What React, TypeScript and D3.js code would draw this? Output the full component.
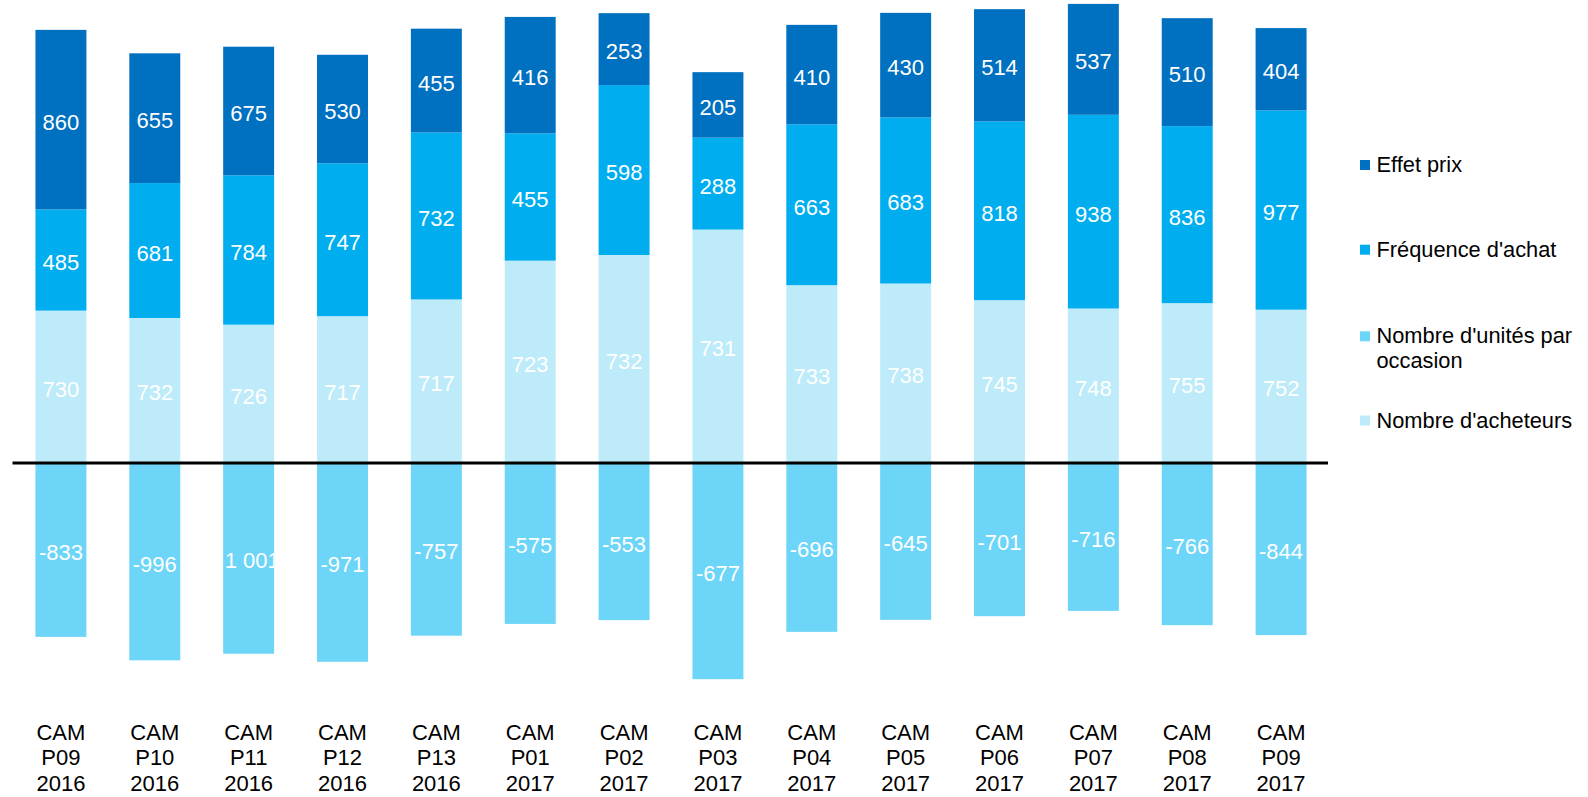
import React, { useEffect } from "react";
import * as d3 from "d3";

const categories = [
  "CAM P09 2016", "CAM P10 2016", "CAM P11 2016", "CAM P12 2016", "CAM P13 2016",
  "CAM P01 2017", "CAM P02 2017", "CAM P03 2017", "CAM P04 2017", "CAM P05 2017",
  "CAM P06 2017", "CAM P07 2017", "CAM P08 2017", "CAM P09 2017",
];
const acheteurs = [730, 732, 726, 717, 717, 723, 732, 731, 733, 738, 745, 748, 755, 752];
const frequence = [485, 681, 784, 747, 732, 455, 598, 288, 663, 683, 818, 938, 836, 977];
const effetPrix = [860, 655, 675, 530, 455, 416, 253, 205, 410, 430, 514, 537, 510, 404];
const unites = [-833, -996, -1001, -971, -757, -575, -553, -677, -696, -645, -701, -716, -766, -844];

const seriesNames = ["Nombre d'acheteurs", "Fréquence d'achat", "Effet prix", "Nombre d'unités par occasion"];
const legendOrder = ["Effet prix", "Fréquence d'achat", "Nombre d'unités par occasion", "Nombre d'acheteurs"];
const legendLines: Record<string, string[]> = {
  "Effet prix": ["Effet prix"],
  "Fréquence d'achat": ["Fréquence d'achat"],
  "Nombre d'unités par occasion": ["Nombre d'unités par", "occasion"],
  "Nombre d'acheteurs": ["Nombre d'acheteurs"],
};
const colors: Record<string, string> = {
  "Nombre d'acheteurs": "#BDEBF9",
  "Fréquence d'achat": "#00AEEF",
  "Effet prix": "#0070C0",
  "Nombre d'unités par occasion": "#6DD5F7",
};

const W = 1588;
const H = 797;
const FONT = "'Liberation Sans', Arial, sans-serif";

const locale = d3.formatLocale({ decimal: ",", thousands: "\u00a0", grouping: [3], currency: ["", " €"], minus: "-" });
const fmt = locale.format(",d");

export default function App() {
  useEffect(() => {
    document.body.style.margin = "0";
  }, []);

  const x = d3.scaleBand<string>().domain(categories).range([14, 1328]).paddingInner(0.457).paddingOuter(0.2285);
  // 100% stacked: each bar's absolute total = 1
  const y = d3.scaleLinear().domain([-0.4, 0.8]).range([463 + 0.4 * 607, 463 - 0.8 * 607]);

  const segs: { cat: string; name: string; y0: number; y1: number; v: number }[] = [];
  categories.forEach((cat, i) => {
    const total = acheteurs[i] + frequence[i] + effetPrix[i] + Math.abs(unites[i]);
    let acc = 0;
    const pos: [string, number][] = [
      [seriesNames[0], acheteurs[i]],
      [seriesNames[1], frequence[i]],
      [seriesNames[2], effetPrix[i]],
    ];
    pos.forEach(([name, v]) => {
      const f = v / total;
      segs.push({ cat, name, y0: acc, y1: acc + f, v });
      acc += f;
    });
    segs.push({ cat, name: seriesNames[3], y0: unites[i] / total, y1: 0, v: unites[i] });
  });

  const bw = x.bandwidth();
  const legendBase = [172, 256.7, 343.3, 427.5];

  return (
    <svg width={W} height={H} style={{ position: "absolute", left: 0, top: 0, display: "block", background: "#fff" }} fontFamily={FONT}>
      <defs>
        {segs.map((s, k) => (
          <clipPath key={"c" + k} id={"clip" + k}>
            <rect x={x(s.cat)! + 1.5} width={bw - 1.5} y={y(s.y1)} height={y(s.y0) - y(s.y1)} />
          </clipPath>
        ))}
      </defs>
      {segs.map((s, k) => (
        <rect key={"r" + k} x={x(s.cat)!} width={bw} y={y(s.y1)} height={y(s.y0) - y(s.y1)} fill={colors[s.name]} />
      ))}
      {segs.map((s, k) => (
        <text key={"t" + k} clipPath={`url(#clip${k})`} x={x(s.cat)! + bw / 2} y={(y(s.y0) + y(s.y1)) / 2 + 10} textAnchor="middle" fill="#fff" fontSize={22}>
          {fmt(s.v)}
        </text>
      ))}
      <line x1={x.range()[0] - 1.5} x2={x.range()[1]} y1={y(0)} y2={y(0)} stroke="#000" strokeWidth={3} />
      {categories.map((c) => (
        <text key={"x" + c} x={x(c)! + bw / 2} textAnchor="middle" fontSize={22} fill="#000">
          {c.split(" ").map((p, j) => (
            <tspan key={j} x={x(c)! + bw / 2} y={739.5 + j * 25.8}>{p}</tspan>
          ))}
        </text>
      ))}
      {legendOrder.map((name, i) => (
        <g key={"l" + name}>
          <rect x={1360} y={legendBase[i] - 12} width={10} height={10} fill={colors[name]} />
          <text fontSize={21.8} fill="#000">
            {legendLines[name].map((ln, j) => (
              <tspan key={j} x={1376.5} y={legendBase[i] + j * 25}>{ln}</tspan>
            ))}
          </text>
        </g>
      ))}
    </svg>
  );
}
